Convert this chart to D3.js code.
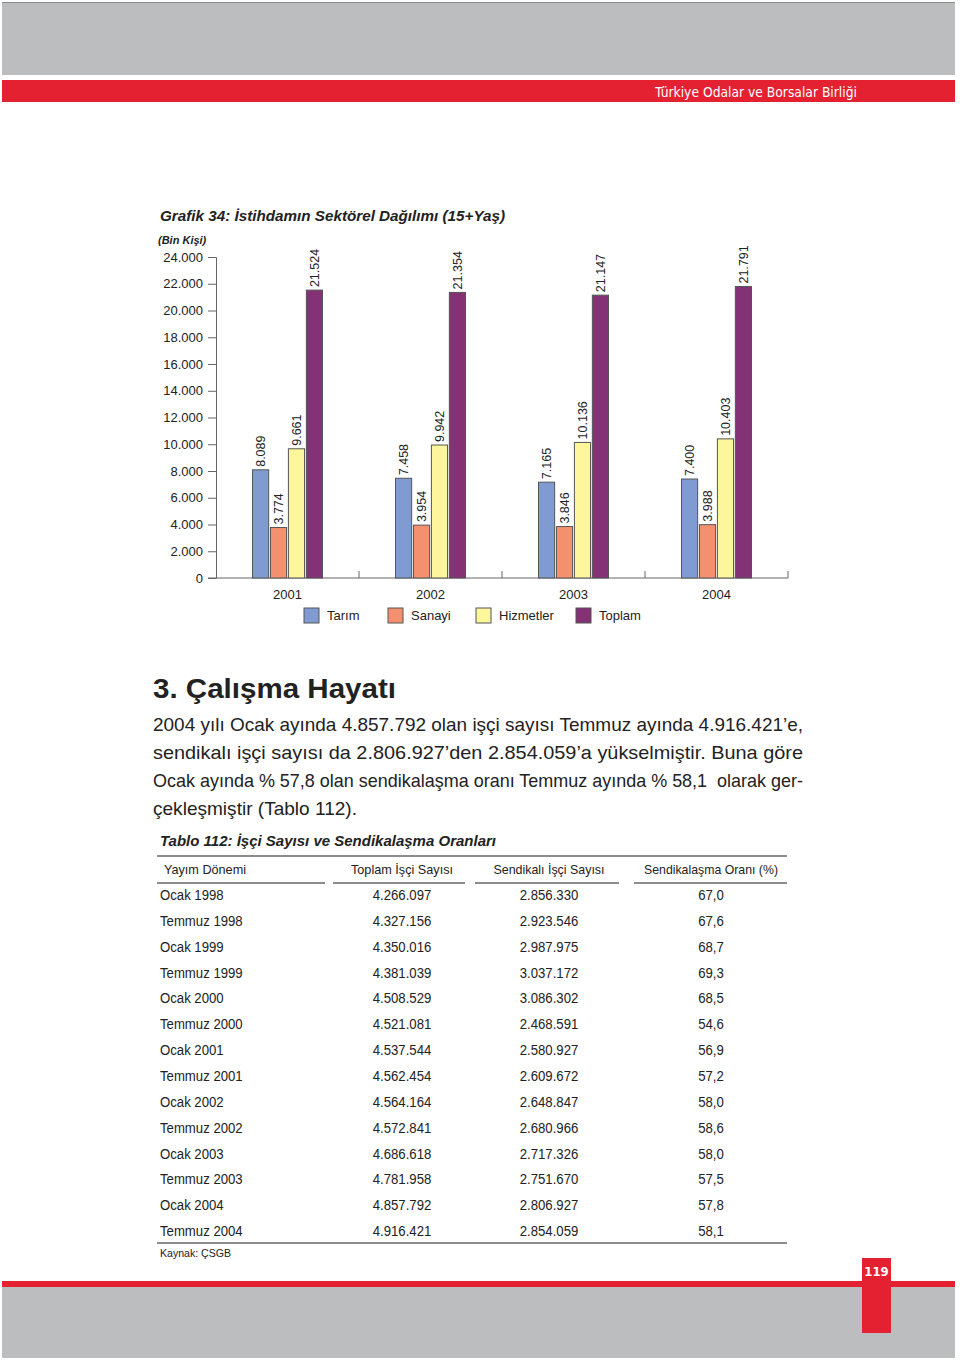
<!DOCTYPE html>
<html><head><meta charset="utf-8">
<script src="https://cdn.jsdelivr.net/npm/d3@7"></script>
<style>
body{margin:0;background:#fff;}
svg{display:block;}
.cond{font-family:"Liberation Sans Narrow","DejaVu Sans Condensed","Roboto Condensed","Liberation Sans",sans-serif;}
</style>
</head><body>
<svg id="page" width="960" height="1361"></svg>
<script>
// ---- chart data ----
const years = ["2001","2002","2003","2004"];
const seriesNames = ["Tarım","Sanayi","Hizmetler","Toplam"];
const tarim = [8089,7458,7165,7400];
const sanayi = [3774,3954,3846,3988];
const hizmetler = [9661,9942,10136,10403];
const toplam = [21524,21354,21147,21791];
const yTicks = [0,2000,4000,6000,8000,10000,12000,14000,16000,18000,20000,22000,24000];
const seriesColors = ["#7f9bd1","#f4906f","#fdf69c","#843275"];

// ---- table data ----
const periods = ["Ocak 1998","Temmuz 1998","Ocak 1999","Temmuz 1999","Ocak 2000","Temmuz 2000","Ocak 2001","Temmuz 2001","Ocak 2002","Temmuz 2002","Ocak 2003","Temmuz 2003","Ocak 2004","Temmuz 2004"];
const toplamIsci = ["4.266.097","4.327.156","4.350.016","4.381.039","4.508.529","4.521.081","4.537.544","4.562.454","4.564.164","4.572.841","4.686.618","4.781.958","4.857.792","4.916.421"];
const sendikaliIsci = ["2.856.330","2.923.546","2.987.975","3.037.172","3.086.302","2.468.591","2.580.927","2.609.672","2.648.847","2.680.966","2.717.326","2.751.670","2.806.927","2.854.059"];
const sendikalasmaOrani = ["67,0","67,6","68,7","69,3","68,5","54,6","56,9","57,2","58,0","58,6","58,0","57,5","57,8","58,1"];
const tableHeaders = ["Yayım Dönemi","Toplam İşçi Sayısı","Sendikalı İşçi Sayısı","Sendikalaşma Oranı (%)"];

const svg = d3.select("#page");
const RED = "#e42130", GRAY = "#bcbdbf";

// page frame
svg.append("rect").attr("x",2).attr("y",2).attr("width",953).attr("height",73).attr("fill",GRAY);
svg.append("line").attr("x1",2).attr("x2",955).attr("y1",2.5).attr("y2",2.5).attr("stroke","#8a8b8d");
svg.append("rect").attr("x",2).attr("y",80).attr("width",953).attr("height",22).attr("fill",RED);
svg.append("text").attr("class","cond").attr("x",857).attr("y",97).attr("text-anchor","end")
  .attr("font-size",14).attr("fill","#fff")
  .attr("textLength",202).attr("lengthAdjust","spacingAndGlyphs")
  .text("Türkiye Odalar ve Borsalar Birliği");

svg.append("rect").attr("x",2).attr("y",1287).attr("width",953).attr("height",71).attr("fill",GRAY);
svg.append("rect").attr("x",2).attr("y",1281).attr("width",953).attr("height",6).attr("fill",RED);
svg.append("rect").attr("x",862).attr("y",1258).attr("width",29).attr("height",75).attr("fill",RED);
svg.append("text").attr("class","cond").attr("x",876.5).attr("y",1276).attr("text-anchor","middle")
  .attr("font-size",13).attr("font-weight","bold").attr("fill","#fff").text("119");

// ---- chart ----
svg.append("text").attr("x",160).attr("y",221).attr("font-family","Liberation Sans, Arial, sans-serif")
  .attr("font-size",15).attr("font-weight","bold").attr("font-style","italic").attr("fill","#222")
  .attr("textLength",345).attr("lengthAdjust","spacingAndGlyphs")
  .text("Grafik 34: İstihdamın Sektörel Dağılımı (15+Yaş)");
svg.append("text").attr("x",158).attr("y",244).attr("font-family","Liberation Sans, Arial, sans-serif")
  .attr("font-size",11).attr("font-weight","bold").attr("font-style","italic").attr("fill","#222")
  .text("(Bin Kişi)");

const y = d3.scaleLinear().domain([0,24000]).range([578,257]);
const x = d3.scaleBand().domain(years).range([216,788]).padding(0);
const groupW = 70;
const xs = d3.scaleBand().domain(seriesNames).range([0,groupW]).paddingInner(0.1);
const fmt = v => d3.format(",")(v).replace(/,/g,".");

const yAxis = d3.axisLeft(y).tickValues(yTicks).tickSize(8).tickPadding(5).tickFormat(fmt);
const gy = svg.append("g").attr("transform","translate(216,0)").call(yAxis);
gy.selectAll("text").attr("font-family","Liberation Sans, Arial, sans-serif").attr("font-size",13).attr("fill","#222");
gy.select(".domain").attr("stroke","#666");
gy.selectAll(".tick line").attr("stroke","#666");

// baseline + separators
svg.append("line").attr("x1",208).attr("x2",788).attr("y1",y(0)).attr("y2",y(0)).attr("stroke","#666");
years.forEach(yr => {
  const xe = x(yr)+x.bandwidth();
  svg.append("line").attr("x1",xe).attr("x2",xe).attr("y1",y(0)).attr("y2",y(0)-7).attr("stroke","#666");
});

const seriesVals = [tarim,sanayi,hizmetler,toplam];
const data = [];
years.forEach((yr,i) => seriesNames.forEach((s,j) => data.push({yr, s, j, v: seriesVals[j][i]})));
const gOff = (x.bandwidth()-groupW)/2;
const bars = svg.append("g");
bars.selectAll("rect").data(data).join("rect")
  .attr("x", d => x(d.yr)+gOff+xs(d.s))
  .attr("y", d => y(d.v))
  .attr("width", xs.bandwidth())
  .attr("height", d => y(0)-y(d.v))
  .attr("fill", d => seriesColors[d.j])
  .attr("stroke","#555").attr("stroke-width",1);
bars.selectAll("text").data(data).join("text")
  .attr("transform", d => `translate(${x(d.yr)+gOff+xs(d.s)+xs.bandwidth()/2},${y(d.v)-3}) rotate(-90)`)
  .attr("dy","0.35em")
  .attr("font-family","Liberation Sans, Arial, sans-serif").attr("font-size",12.5).attr("fill","#222")
  .text(d => fmt(d.v));

// year labels
svg.append("g").selectAll("text").data(years).join("text")
  .attr("x", d => x(d)+x.bandwidth()/2).attr("y",599).attr("text-anchor","middle")
  .attr("font-family","Liberation Sans, Arial, sans-serif").attr("font-size",13).attr("fill","#222")
  .text(d => d);

// legend
const legX = [304,388,476,576];
const leg = svg.append("g").selectAll("g").data(seriesNames).join("g")
  .attr("transform",(d,i)=>`translate(${legX[i]},608)`);
leg.append("rect").attr("width",15).attr("height",15).attr("fill",(d,i)=>seriesColors[i]).attr("stroke","#555");
leg.append("text").attr("x",23).attr("y",12).attr("font-family","Liberation Sans, Arial, sans-serif")
  .attr("font-size",13).attr("fill","#222").text(d=>d);

// ---- text section ----
svg.append("text").attr("x",153).attr("y",698).attr("font-family","Liberation Sans, Arial, sans-serif")
  .attr("font-size",28).attr("font-weight","bold").attr("fill","#222")
  .attr("textLength",243).attr("lengthAdjust","spacingAndGlyphs")
  .text("3. Çalışma Hayatı");

const bodyLines = [
  {t:"2004 yılı Ocak ayında 4.857.792 olan işçi sayısı Temmuz ayında 4.916.421’e,", w:650},
  {t:"sendikalı işçi sayısı da 2.806.927’den 2.854.059’a yükselmiştir. Buna göre", w:650},
  {t:"Ocak ayında % 57,8 olan sendikalaşma oranı Temmuz ayında % 58,1  olarak ger-", w:650},
  {t:"çekleşmiştir (Tablo 112).", w:204}
];
svg.append("g").selectAll("text").data(bodyLines).join("text")
  .attr("x",153).attr("y",(d,i)=>731+i*28)
  .attr("font-family","Liberation Sans, Arial, sans-serif").attr("font-size",19).attr("fill","#222")
  .attr("textLength",d=>d.w).attr("lengthAdjust","spacingAndGlyphs")
  .attr("xml:space","preserve")
  .text(d=>d.t);

svg.append("text").attr("x",160).attr("y",846).attr("font-family","Liberation Sans, Arial, sans-serif")
  .attr("font-size",15).attr("font-weight","bold").attr("font-style","italic").attr("fill","#222")
  .attr("textLength",336).attr("lengthAdjust","spacingAndGlyphs")
  .text("Tablo 112: İşçi Sayısı ve Sendikalaşma Oranları");

// ---- table ----
const tLine = "#8c8c8c";
svg.append("line").attr("x1",157).attr("x2",787).attr("y1",856).attr("y2",856).attr("stroke",tLine).attr("stroke-width",2);
const segs = [[157,325],[333,465],[475,619],[634,787]];
segs.forEach(s => svg.append("line").attr("x1",s[0]).attr("x2",s[1]).attr("y1",883).attr("y2",883).attr("stroke",tLine).attr("stroke-width",2));
svg.append("line").attr("x1",157).attr("x2",787).attr("y1",1243).attr("y2",1243).attr("stroke",tLine).attr("stroke-width",2);

const colX = [160,402,549,711];
const colAnchor = ["start","middle","middle","middle"];
const tf = "Liberation Sans, Arial, sans-serif";
const hdrW = [82,102,111,134];
svg.append("g").selectAll("text").data(tableHeaders).join("text")
  .attr("x",(d,i)=> i===0?164:colX[i]).attr("y",874).attr("text-anchor",(d,i)=>colAnchor[i])
  .attr("font-family",tf).attr("font-size",13).attr("fill","#222")
  .attr("textLength",(d,i)=>hdrW[i]).attr("lengthAdjust","spacingAndGlyphs")
  .text(d=>d);

const rows = periods.map((p,i)=>[p,toplamIsci[i],sendikaliIsci[i],sendikalasmaOrani[i]]);
const rowG = svg.append("g").selectAll("g").data(rows).join("g")
  .attr("transform",(d,i)=>`translate(0,${900+i*25.85})`);
rowG.selectAll("text").data(d=>d).join("text")
  .attr("x",(d,i)=>colX[i]).attr("text-anchor",(d,i)=>colAnchor[i])
  .attr("font-family",tf).attr("font-size",14).attr("fill","#222")
  .each(function(d,i){
    const el = d3.select(this).text(d);
    const w = this.getComputedTextLength();
    el.attr("textLength", w*0.94).attr("lengthAdjust","spacingAndGlyphs");
  });

svg.append("text").attr("x",160).attr("y",1257).attr("font-family",tf).attr("font-size",11.5).attr("fill","#222")
  .attr("textLength",71).attr("lengthAdjust","spacingAndGlyphs").text("Kaynak: ÇSGB");
</script>
</body></html>
